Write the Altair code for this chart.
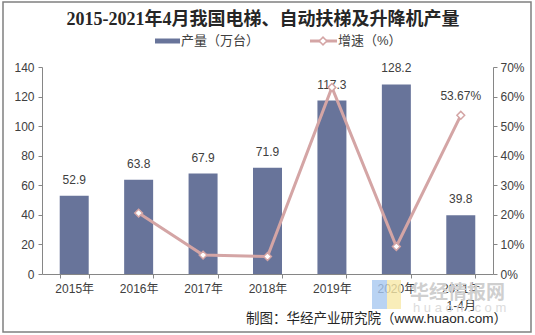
import altair as alt
import pandas as pd

categories = ["2015年", "2016年", "2017年", "2018年", "2019年", "2020年", "2021年1-4月"]
production = [52.9, 63.8, 67.9, 71.9, 117.3, 128.2, 39.8]
growth = [None, 20.6, 6.4, 5.9, 63.1, 9.3, 53.67]
growth_labels = ["", "", "", "", "", "", "53.67%"]

title_text = "2015-2021年4月我国电梯、自动扶梯及升降机产量"
legend_bar = "产量（万台）"
legend_line = "增速（%）"
source_text = "制图：华经产业研究院（www.huaon.com）"

BAR = "#68749a"
LINE = "#d4a5a5"
TXT = "#404040"
AX = "#868686"
FONT = "Liberation Sans, Noto Sans CJK SC"

W, H = 451, 207
PL, PT = 42, 67

df = pd.DataFrame({"cat": categories, "prod": production, "growth": growth, "glabel": growth_labels})
one = pd.DataFrame({"a": [0]})

xscale = alt.Scale(domain=categories, paddingInner=0.55, paddingOuter=0.275)
xenc = alt.X("cat:N", scale=xscale, sort=categories,
             axis=alt.Axis(title=None, labelAngle=0, tickBand="extent", domainColor=AX, tickColor=AX,
                           tickSize=4, labelColor=TXT, labelFont=FONT, labelFontSize=12, labelPadding=5,
                           labelLineHeight=17, grid=False, labelOverlap=False,
                           labelExpr="datum.value == '2021年1-4月' ? ['2021年', '1-4月'] : datum.value"))

yleft = alt.Y("prod:Q", scale=alt.Scale(domain=[0, 140]),
              axis=alt.Axis(title=None, values=[0, 20, 40, 60, 80, 100, 120, 140], grid=False,
                            domainColor=AX, tickColor=AX, tickSize=4, labelColor=TXT, labelFont=FONT,
                            labelFontSize=12, labelPadding=4, labelOverlap=False))

yright = alt.Y("growth:Q", scale=alt.Scale(domain=[0, 70]),
               axis=alt.Axis(title=None, orient="right", values=[0, 10, 20, 30, 40, 50, 60, 70], grid=False,
                             domainColor=AX, tickColor=AX, tickSize=4, labelColor=TXT, labelFont=FONT,
                             labelFontSize=12, labelPadding=3, labelOverlap=False,
                             labelExpr="datum.value + '%'"))

base = alt.Chart(df)
bars = base.mark_bar(color=BAR).encode(x=xenc, y=yleft)
bar_labels = base.mark_text(dy=-9, baseline="bottom", font=FONT, fontSize=12, color=TXT).encode(
    x=xenc, y=yleft, text=alt.Text("prod:Q", format=".1f"))
left = alt.layer(bars, bar_labels)

gbase = base.transform_filter("isValid(datum.growth)")
line = gbase.mark_line(color=LINE, strokeWidth=3).encode(x=xenc, y=yright)
pts = gbase.mark_point(shape="diamond", filled=True, fill="white", stroke=LINE, strokeWidth=1.5, size=60, opacity=1).encode(
    x=xenc, y=yright)
glab = gbase.mark_text(dy=-12, baseline="bottom", font=FONT, fontSize=12, color=TXT).encode(
    x=xenc, y=yright, text="glabel:N")
right = alt.layer(line, pts, glab)

dec = alt.Chart(one)
border = dec.mark_rect(fill=None, stroke="#808080", strokeWidth=1.5).encode(
    x=alt.value(3 - PL), x2=alt.value(531 - PL), y=alt.value(2 - PT), y2=alt.value(332 - PT))
title = dec.mark_text(font="Liberation Serif, Noto Sans CJK SC", fontSize=18, fontWeight="bold", color="#262626",
                      align="center", baseline="middle").encode(
    x=alt.value(263 - PL), y=alt.value(20 - PT), text=alt.value(title_text))
leg_bar = dec.mark_rule(color=BAR, strokeWidth=5).encode(
    x=alt.value(155 - PL), x2=alt.value(180 - PL), y=alt.value(41 - PT))
leg_bar_t = dec.mark_text(font=FONT, fontSize=13, color=TXT, align="left", baseline="middle").encode(
    x=alt.value(181 - PL), y=alt.value(41 - PT), text=alt.value(legend_bar))
leg_line = dec.mark_rule(color=LINE, strokeWidth=3).encode(
    x=alt.value(310 - PL), x2=alt.value(337 - PL), y=alt.value(41 - PT))
leg_pt = dec.mark_point(shape="diamond", filled=True, fill="white", stroke=LINE, strokeWidth=1.5, size=60, opacity=1).encode(
    x=alt.value(323 - PL), y=alt.value(41 - PT))
leg_line_t = dec.mark_text(font=FONT, fontSize=13, color=TXT, align="left", baseline="middle").encode(
    x=alt.value(338 - PL), y=alt.value(41 - PT), text=alt.value(legend_line))
wm1 = dec.mark_rect(color="#a8c8f0", opacity=0.8).encode(
    x=alt.value(372 - PL), x2=alt.value(387 - PL), y=alt.value(280 - PT), y2=alt.value(309 - PT))
wm2 = dec.mark_rect(color="#f8e8a8", opacity=0.8).encode(
    x=alt.value(387 - PL), x2=alt.value(401 - PL), y=alt.value(280 - PT), y2=alt.value(309 - PT))
wm3 = dec.mark_text(font=FONT, fontSize=19, fontWeight="bold", color="#cfcfcf", align="left", baseline="middle").encode(
    x=alt.value(410 - PL), y=alt.value(293 - PT), text=alt.value("华经情报网"))
wm4 = dec.mark_text(font=FONT, fontSize=13, color="#dcdcdc", align="left", baseline="middle").encode(
    x=alt.value(413 - PL), y=alt.value(308 - PT), text=alt.value("h u a o n . c o m"))
source = dec.mark_text(font=FONT, fontSize=13.5, color="#262626", align="right", baseline="middle").encode(
    x=alt.value(507 - PL), y=alt.value(319 - PT), text=alt.value(source_text))

decor = alt.layer(wm1, wm2, wm3, wm4, border, title, leg_bar, leg_bar_t, leg_line, leg_pt, leg_line_t, source)

chart = alt.layer(decor, left, right).resolve_scale(y="independent").properties(
    width=W, height=H,
    padding={"left": PL, "top": PT, "right": 535 - PL - W, "bottom": 335 - PT - H},
    autosize=alt.AutoSizeParams(type="none"),
    background="white",
).configure_view(stroke=None)

chart.save("out.html", embed_options={"renderer": "svg", "actions": False})
